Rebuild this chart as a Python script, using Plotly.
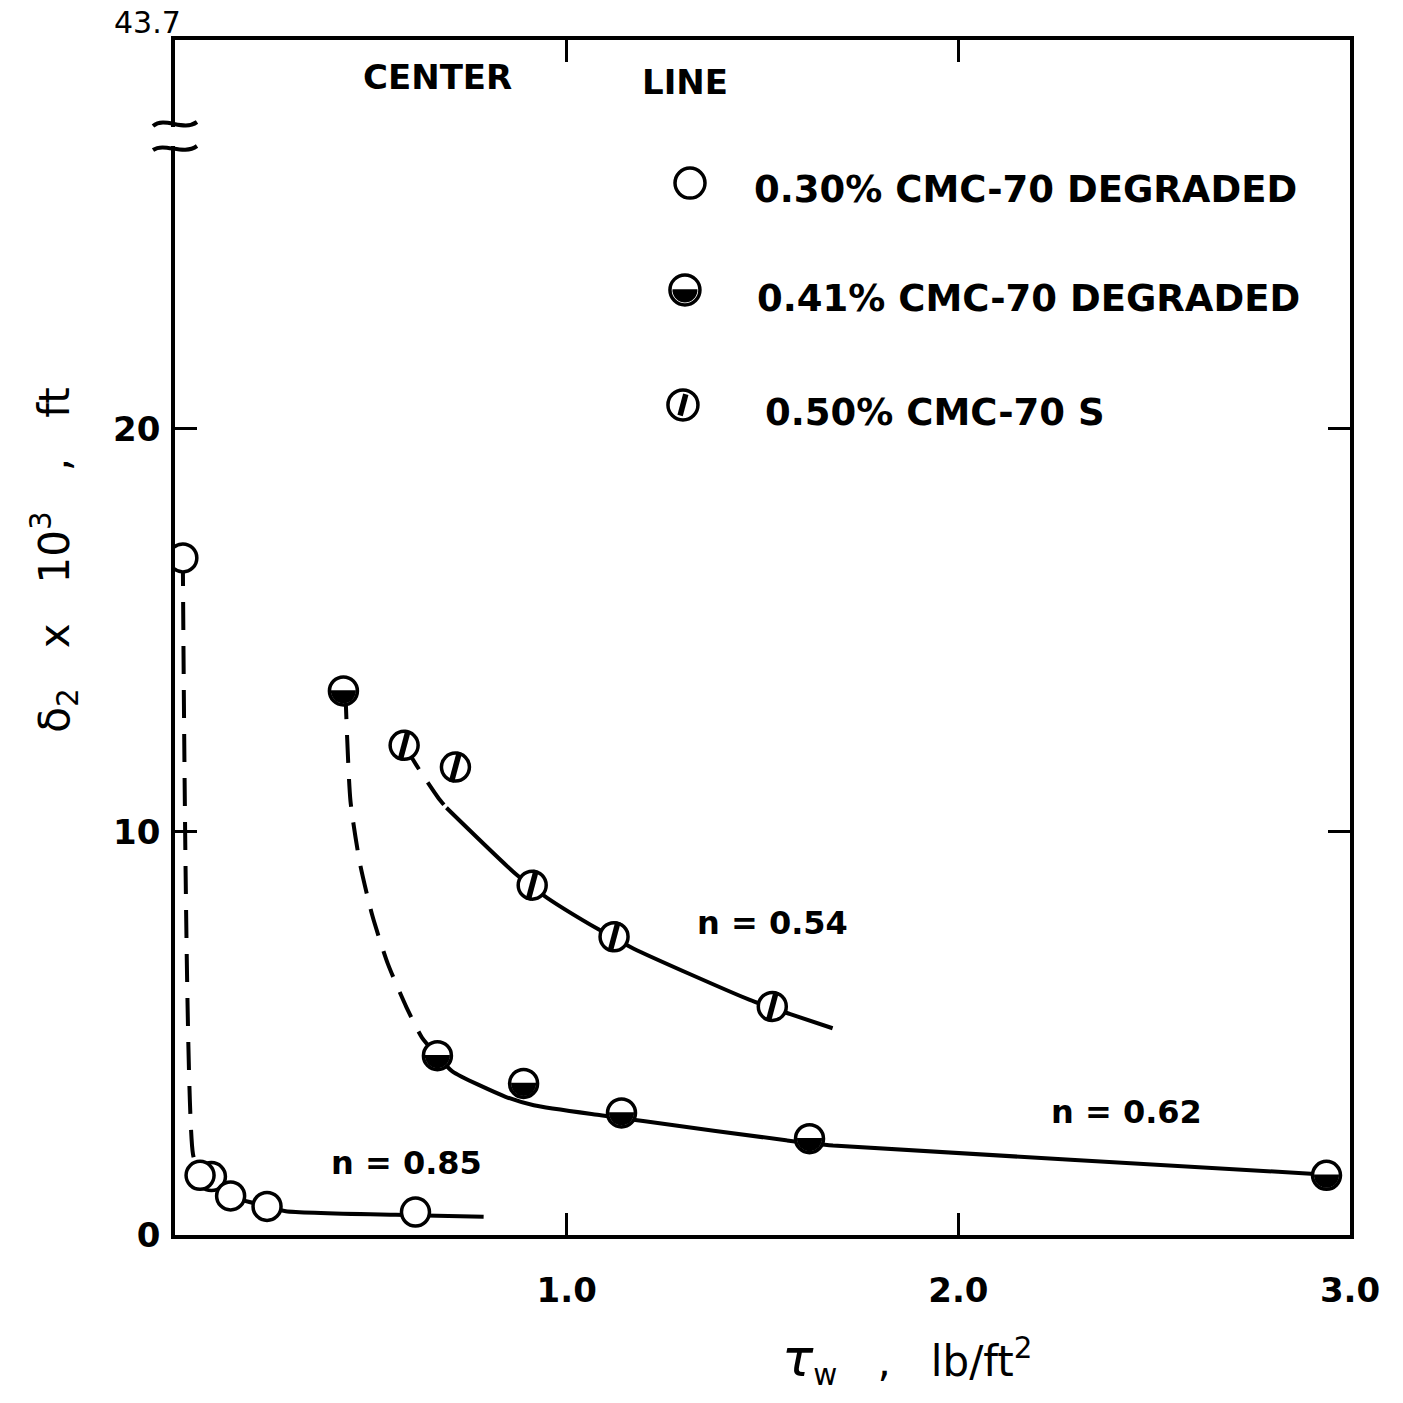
import numpy as np
import plotly.graph_objects as go

# Wall shear stress tau_w (lb/ft^2) and delta_2 x 10^3 (ft) for each solution
cmc030_tau = [0.02, 0.093, 0.064, 0.142, 0.235, 0.614]
cmc030_delta = [16.8, 1.45, 1.48, 0.97, 0.71, 0.57]

cmc041_tau = [0.43, 0.67, 0.89, 1.14, 1.62, 2.94]
cmc041_delta = [13.5, 4.45, 3.76, 3.03, 2.39, 1.48]

cmc050_tau = [0.585, 0.716, 0.912, 1.121, 1.525]
cmc050_delta = [12.15, 11.61, 8.68, 7.40, 5.67]

# Faired curves: dashed (toward the center line) and solid parts
fit085_dash_tau = [0.02, 0.046, 0.064]
fit085_dash_delta = [16.8, 2.0, 1.48]
fit085_tau = [0.064, 0.093, 0.142, 0.235, 0.283, 0.564, 0.668, 0.788]
fit085_delta = [1.48, 1.40, 0.97, 0.71, 0.59, 0.50, 0.48, 0.45]

fit062_dash_tau = [0.435, 0.448, 0.472, 0.504, 0.543, 0.591, 0.631, 0.67]
fit062_dash_delta = [13.5, 10.77, 9.23, 7.92, 6.74, 5.65, 4.89, 4.45]
fit062_tau = [0.67, 0.708, 0.844, 0.916, 1.087, 1.20, 1.56, 1.68, 2.90, 2.94]
fit062_delta = [4.45, 4.06, 3.43, 3.22, 2.97, 2.82, 2.35, 2.22, 1.52, 1.48]

fit054_dash_tau = [0.585, 0.624, 0.672, 0.693]
fit054_dash_delta = [12.15, 11.54, 10.85, 10.6]
fit054_tau = [0.693, 0.873, 0.951, 1.080, 1.170, 1.466, 1.571, 1.679]
fit054_delta = [10.6, 8.93, 8.36, 7.59, 7.11, 5.84, 5.48, 5.13]

# Axis ticks
x_tickvals = [1, 2, 3]
x_ticktext = ["1.0", "2.0", "3.0"]
y_tickvals = [0, 10, 20]
y_ticktext = ["0", "10", "20"]
y_top = 29.65
y_top_label = "43.7"

# Legend entries and flow-index labels
legend_labels = ["0.30% CMC-70 DEGRADED", "0.41% CMC-70 DEGRADED", "0.50% CMC-70 S"]
n_labels = ["n = 0.85", "n = 0.62", "n = 0.54"]
n_label_tau = [0.59, 2.43, 1.525]
n_label_delta = [1.78, 3.06, 7.75]

FONT = "DejaVu Sans"
INK = "black"
MS = 28
LW = 4

fig = go.Figure()


def add_curve(xs, ys, dashed):
    fig.add_trace(go.Scatter(
        x=xs, y=ys, mode="lines",
        line=dict(color=INK, width=LW, shape="spline", smoothing=0.6,
                  dash="28px,16px" if dashed else "solid"),
        hoverinfo="skip", showlegend=False))


add_curve(fit085_dash_tau, fit085_dash_delta, True)
add_curve(fit085_tau, fit085_delta, False)
add_curve(fit062_dash_tau, fit062_dash_delta, True)
add_curve(fit062_tau, fit062_delta, False)
add_curve(fit054_dash_tau, fit054_dash_delta, True)
add_curve(fit054_tau, fit054_delta, False)

marker_base = dict(symbol="circle", size=MS, color="white",
                   line=dict(color=INK, width=3.5))
for name, xs, ys in [(legend_labels[0], cmc030_tau, cmc030_delta),
                     (legend_labels[1], cmc041_tau, cmc041_delta),
                     (legend_labels[2], cmc050_tau, cmc050_delta)]:
    fig.add_trace(go.Scatter(x=xs, y=ys, mode="markers", name=name,
                             marker=marker_base, showlegend=False))

# slash through the 0.50% markers
fig.add_trace(go.Scatter(
    x=cmc050_tau, y=cmc050_delta, mode="markers", hoverinfo="skip",
    marker=dict(symbol="line-ns", size=22, angle=15,
                line=dict(color=INK, width=5.5)),
    showlegend=False))

# lower half-disc used for the 0.41% symbol
t = np.linspace(-0.06, np.pi + 0.06, 19)
r_fill = 12.5
half_path = "M " + " L ".join(f"{r_fill*np.cos(a):.2f},{-r_fill*np.sin(a):.2f}" for a in t) + " Z"

shapes = []
for xv, yv in zip(cmc041_tau, cmc041_delta):
    shapes.append(dict(type="path", xref="x", yref="y", xsizemode="pixel",
                       ysizemode="pixel", xanchor=xv, yanchor=yv,
                       path=half_path, fillcolor=INK, line=dict(width=0)))

# legend keys (paper-anchored glyphs)
key_pos = [(0.4383, 0.8803), (0.434, 0.7908), (0.4323, 0.6946)]
text_pos = [(0.491, 0.8745), (0.4936, 0.784), (0.5004, 0.6887)]
for i, (kx, ky) in enumerate(key_pos):
    common = dict(xref="paper", yref="paper", xsizemode="pixel",
                  ysizemode="pixel", xanchor=kx, yanchor=ky)
    shapes.append(dict(type="circle", x0=-15, x1=15, y0=-15, y1=15,
                       fillcolor="white", line=dict(color=INK, width=3.5), **common))
    if i == 1:
        shapes.append(dict(type="path", path=half_path, fillcolor=INK,
                           line=dict(width=0), **common))
    if i == 2:
        s = np.sin(np.radians(15)) * 11
        c = np.cos(np.radians(15)) * 11
        shapes.append(dict(type="path", path=f"M {-s:.2f},{-c:.2f} L {s:.2f},{c:.2f}",
                           line=dict(color=INK, width=5.5), **common))

# axis break on the left border
brk = dict(xref="paper", yref="paper", xsizemode="pixel", ysizemode="pixel",
           xanchor=0, yanchor=1)
shapes.append(dict(type="rect", x0=-6, x1=6, y0=-87, y1=-106,
                   fillcolor="white", line=dict(width=0), **brk))
shapes.append(dict(type="path", path="M -22,-86 C -10,-76 8,-92 22,-82",
                   line=dict(color=INK, width=4), **brk))
shapes.append(dict(type="path", path="M -22,-110 C -10,-102 8,-116 22,-106",
                   line=dict(color=INK, width=4), **brk))

bold = dict(family=FONT, color=INK, weight="bold")
annotations = []
for txt, (tx, ty) in zip(legend_labels, text_pos):
    annotations.append(dict(text=txt, x=tx, y=ty, xref="paper", yref="paper",
                            xanchor="left", yanchor="middle", showarrow=False,
                            font=dict(size=37, **bold)))
for txt, xv, yv in zip(n_labels, n_label_tau, n_label_delta):
    annotations.append(dict(text=txt, x=xv, y=yv, xref="x", yref="y",
                            xanchor="center", yanchor="middle", showarrow=False,
                            font=dict(size=32, **bold)))
annotations += [
    dict(text="CENTER", x=0.223, y=0.969, xref="paper", yref="paper",
         xanchor="center", yanchor="middle", showarrow=False,
         font=dict(size=34, **bold)),
    dict(text="LINE", x=0.434, y=0.965, xref="paper", yref="paper",
         xanchor="center", yanchor="middle", showarrow=False,
         font=dict(size=34, **bold)),
    dict(text=y_top_label, x=0, y=1, xref="paper", yref="paper", xanchor="right",
         yanchor="middle", xshift=8, yshift=18, showarrow=False,
         font=dict(family=FONT, size=30, color=INK)),
    dict(text="<span style='font-size:52px'><i>τ</i></span><sub>w</sub>"
              "\u00a0\u00a0\u00a0,\u00a0\u00a0\u00a0lb/ft<sup>2</sup>",
         x=0.623, y=-0.105, xref="paper", yref="paper",
         xanchor="center", yanchor="middle", showarrow=False,
         font=dict(family=FONT, size=42, color=INK)),
    dict(text="δ<sub>2</sub>\u00a0\u00a0\u00a0x\u00a0\u00a0\u00a010<sup>3</sup>"
              "\u00a0\u00a0\u00a0,\u00a0\u00a0\u00a0ft",
         x=-0.103, y=0.565, xref="paper", yref="paper", textangle=-90,
         xanchor="center", yanchor="middle",
         showarrow=False, font=dict(family=FONT, size=42, color=INK)),
]

axis_common = dict(showline=True, linewidth=3.5, linecolor=INK, mirror="ticks",
                   ticks="inside", ticklen=22, tickwidth=3, tickcolor=INK,
                   showgrid=False, zeroline=False,
                   tickfont=dict(family=FONT, size=34, color=INK, weight="bold"))

fig.update_xaxes(range=[0, 3], tickvals=x_tickvals, ticktext=x_ticktext,
                 ticklabelstandoff=22, **axis_common)
fig.update_yaxes(range=[0, y_top], tickvals=y_tickvals, ticktext=y_ticktext,
                 ticklabelstandoff=4, **axis_common)

fig.update_layout(width=1403, height=1403, autosize=False,
                  margin=dict(l=175, r=53, t=40, b=168),
                  paper_bgcolor="white", plot_bgcolor="white",
                  showlegend=False, shapes=shapes, annotations=annotations,
                  font=dict(family=FONT, color=INK))

fig.write_html("out.html")
